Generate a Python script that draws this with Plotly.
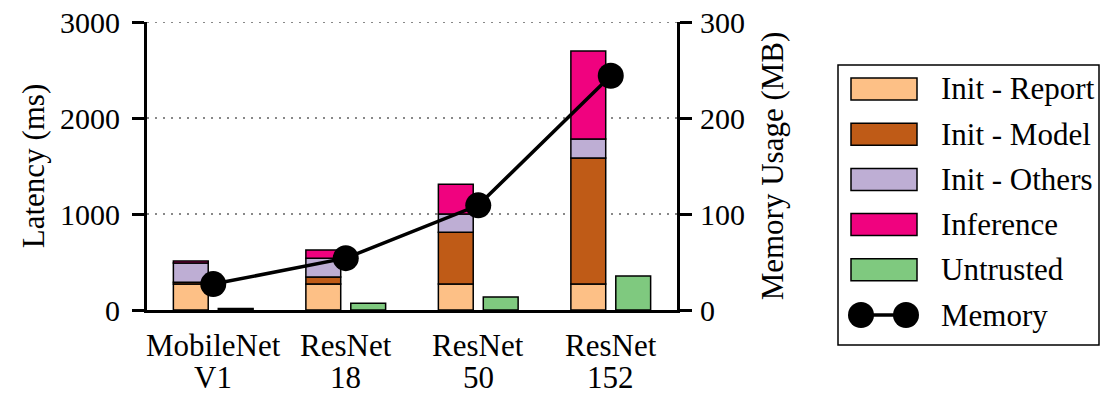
import plotly.graph_objects as go
import numpy as np

# ---------------- data ----------------
model_line1 = ["MobileNet", "ResNet", "ResNet", "ResNet"]
model_line2 = ["V1", "18", "50", "152"]
init_report = [270, 270, 270, 270]
init_model = [20, 75, 540, 1313]
init_others = [200, 195, 190, 198]
inference = [20, 85, 310, 917]
untrusted = [15, 70, 135, 354]
memory_mb = [27, 54, 109, 244]
latency_ticks = [0, 1000, 2000, 3000]
memory_ticks = [0, 100, 200, 300]

stack_names = ["Init - Report", "Init - Model", "Init - Others", "Inference"]
stack_colors = ["#fdc086", "#bf5b17", "#beaed4", "#f0027f"]
untrusted_color = "#7fc97f"

FONT = "Liberation Serif"
FS_TICK = 30
FS = 31

W, H = 1102, 394
L, R, T, B = 147, 425, 22, 84
PW, PH = W - L - R, H - T - B

x = list(range(len(model_line1)))
bar_w = 0.263

fig = go.Figure()

stack_vals = [init_report, init_model, init_others, inference]
base = np.zeros(len(x))
for name, vals, col in zip(stack_names, stack_vals, stack_colors):
    fig.add_trace(go.Bar(
        x=x, y=vals, base=base.copy(), name=name, width=bar_w, offset=-bar_w - 0.038,
        marker=dict(color=col, line=dict(color="black", width=1.5)),
        showlegend=False,
    ))
    base = base + np.array(vals)

fig.add_trace(go.Bar(
    x=x, y=untrusted, name="Untrusted", width=bar_w, offset=0.038,
    marker=dict(color=untrusted_color, line=dict(color="black", width=1.5)),
    showlegend=False,
))

fig.add_trace(go.Scatter(
    x=x, y=memory_mb, name="Memory", yaxis="y2", mode="lines+markers",
    line=dict(color="black", width=3.5),
    marker=dict(color="black", size=26),
    showlegend=False, cliponaxis=False,
))

axis_common = dict(
    showline=True, linecolor="black", linewidth=3,
    ticks="outside", ticklen=12, tickwidth=3, tickcolor="black",
    tickfont=dict(family=FONT, size=FS_TICK, color="black"),
    zeroline=False, automargin=False,
)

fig.update_layout(
    width=W, height=H,
    margin=dict(l=L, r=R, t=T, b=B, pad=0, autoexpand=False),
    plot_bgcolor="white", paper_bgcolor="white",
    barmode="overlay",
    font=dict(family=FONT, size=FS, color="black"),
    xaxis=dict(
        range=[-0.5, 3.5], tickmode="array", tickvals=x, showticklabels=False,
        showline=True, linecolor="black", linewidth=3, ticks="",
        showgrid=False, zeroline=False, automargin=False,
    ),
    yaxis=dict(
        range=[0, 3000], tickmode="array", tickvals=latency_ticks,
        showgrid=True, gridcolor="#888888", gridwidth=2, griddash="2px,6px",
        ticklabelstandoff=6,
        title=dict(text="Latency (ms)", font=dict(family=FONT, size=FS), standoff=7),
        **axis_common,
    ),
    yaxis2=dict(
        range=[0, 300], tickmode="array", tickvals=memory_ticks,
        overlaying="y", side="right", showgrid=False,
        ticklabelstandoff=2,
        title=dict(text="Memory Usage (MB)", font=dict(family=FONT, size=FS), standoff=18),
        **axis_common,
    ),
)

# ---------------- helpers (pixel -> paper) ----------------
def px(xp):
    return (xp - L) / PW

def py(yp):
    return (H - B - yp) / PH

shapes = []
annotations = []

# dotted gridline at the top of the latency range
shapes.append(dict(type="line", xref="paper", yref="y", x0=0, x1=1,
                   y0=latency_ticks[-1], y1=latency_ticks[-1], layer="between",
                   line=dict(color="#888888", width=2, dash="2px,6px")))

# category labels (two lines)
for xi, l1, l2 in zip(x, model_line1, model_line2):
    annotations.append(dict(xref="x", yref="paper", x=xi, y=py(345), text=l1,
                            showarrow=False, xanchor="center", yanchor="middle",
                            borderpad=0, height=31, valign="middle",
                            font=dict(family=FONT, size=FS, color="black")))
    annotations.append(dict(xref="x", yref="paper", x=xi, y=py(377), text=l2,
                            showarrow=False, xanchor="center", yanchor="middle",
                            borderpad=0, height=31, valign="middle",
                            font=dict(family=FONT, size=FS, color="black")))

# legend box
shapes.append(dict(type="rect", xref="paper", yref="paper",
                   x0=px(838), x1=px(1099), y0=py(65), y1=py(345),
                   line=dict(color="black", width=1.5), fillcolor="rgba(0,0,0,0)"))

leg_names = stack_names + ["Untrusted", "Memory"]
leg_colors = stack_colors + [untrusted_color, None]
row0, dy = 89, 45.2
for i, (nm, col) in enumerate(zip(leg_names, leg_colors)):
    cy = row0 + i * dy
    if col is not None:
        shapes.append(dict(type="rect", xref="paper", yref="paper",
                           x0=px(851), x1=px(917), y0=py(cy + 11), y1=py(cy - 11),
                           fillcolor=col, line=dict(color="black", width=1.5)))
    else:
        shapes.append(dict(type="line", xref="paper", yref="paper",
                           x0=px(861), x1=px(906), y0=py(cy), y1=py(cy),
                           line=dict(color="black", width=3.5)))
        for cx in (861, 906):
            shapes.append(dict(type="circle", xref="paper", yref="paper",
                               x0=px(cx - 13), x1=px(cx + 13), y0=py(cy + 13), y1=py(cy - 13),
                               fillcolor="black", line=dict(color="black", width=0)))
    annotations.append(dict(xref="paper", yref="paper", x=px(940), y=py(cy),
                            text=nm, showarrow=False, xanchor="left", yanchor="middle",
                            borderpad=0,
                            font=dict(family=FONT, size=FS, color="black")))

fig.update_layout(shapes=shapes, annotations=annotations)

# the page's default body margin would shift the figure by 8px; remove it
fig.write_html("out.html", config={"displayModeBar": False},
               post_script="document.body.style.margin='0px';")
